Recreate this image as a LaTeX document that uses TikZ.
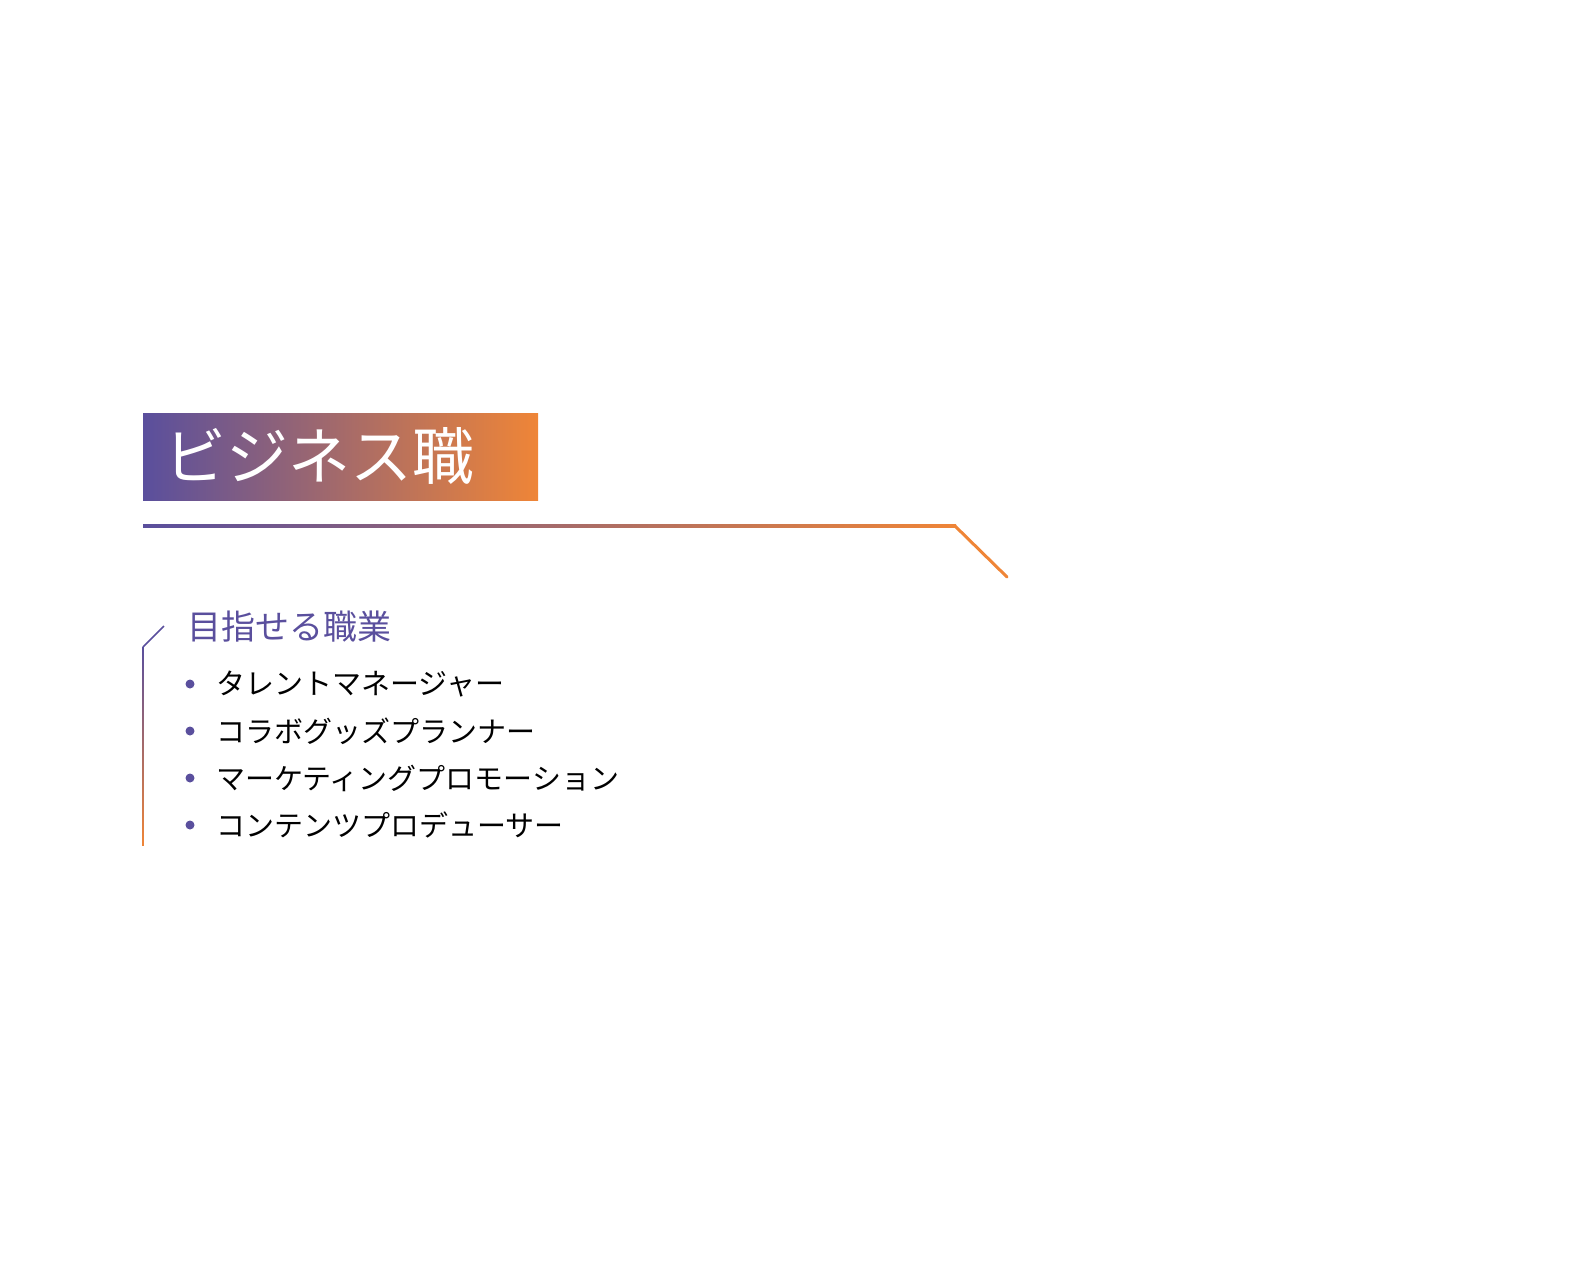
\documentclass[tikz,border=0pt]{standalone}
\usepackage{fontspec}
\newfontfamily\jp{Noto Sans CJK JP}
\definecolor{pur}{HTML}{5A4F9D}
\definecolor{org}{HTML}{EF8537}
\begin{document}
\begin{tikzpicture}[x=1pt,y=-1pt,
  item/.style={anchor=west,inner sep=0pt,font=\jp\fontsize{29}{32}\selectfont,text=black},
  dot/.style={circle,fill=pur,inner sep=0pt,minimum size=9pt}]
\useasboundingbox (0,0) rectangle (1586,1282);
\shade[left color=pur,right color=org] (143,413) rectangle (538,500);
\node[anchor=west,inner sep=0pt,text=white,font=\jp\fontsize{62}{66}\selectfont] (title) at (164,456) {ビジネス職};
\shade[left color=pur,right color=org] (143,524.5) rectangle (956,527.5);
\coordinate (c1) at (955,526);
\coordinate (c2) at (1007,577);
\draw[org,line width=3pt,line cap=round] (c1) -- (c2);
\shade[top color=pur,bottom color=org] (142.2,647) rectangle (143.8,845);
\coordinate (b1) at (164,626);
\coordinate (b2) at (143,647);
\draw[pur,line width=1.6pt] (b1) -- (b2);
\node[anchor=west,inner sep=0pt,text=pur,font=\jp\fontsize{34}{38}\selectfont] (head) at (187,627) {目指せる職業};
\foreach \y/\t [count=\i] in {684/タレントマネージャー,731/コラボグッズプランナー,778/マーケティングプロモーション,825/コンテンツプロデューサー}{
  \node[dot] (d\i) at (190,\y) {};
  \node[item] (t\i) at (216,\y) {\t};
}
\end{tikzpicture}
\end{document}
